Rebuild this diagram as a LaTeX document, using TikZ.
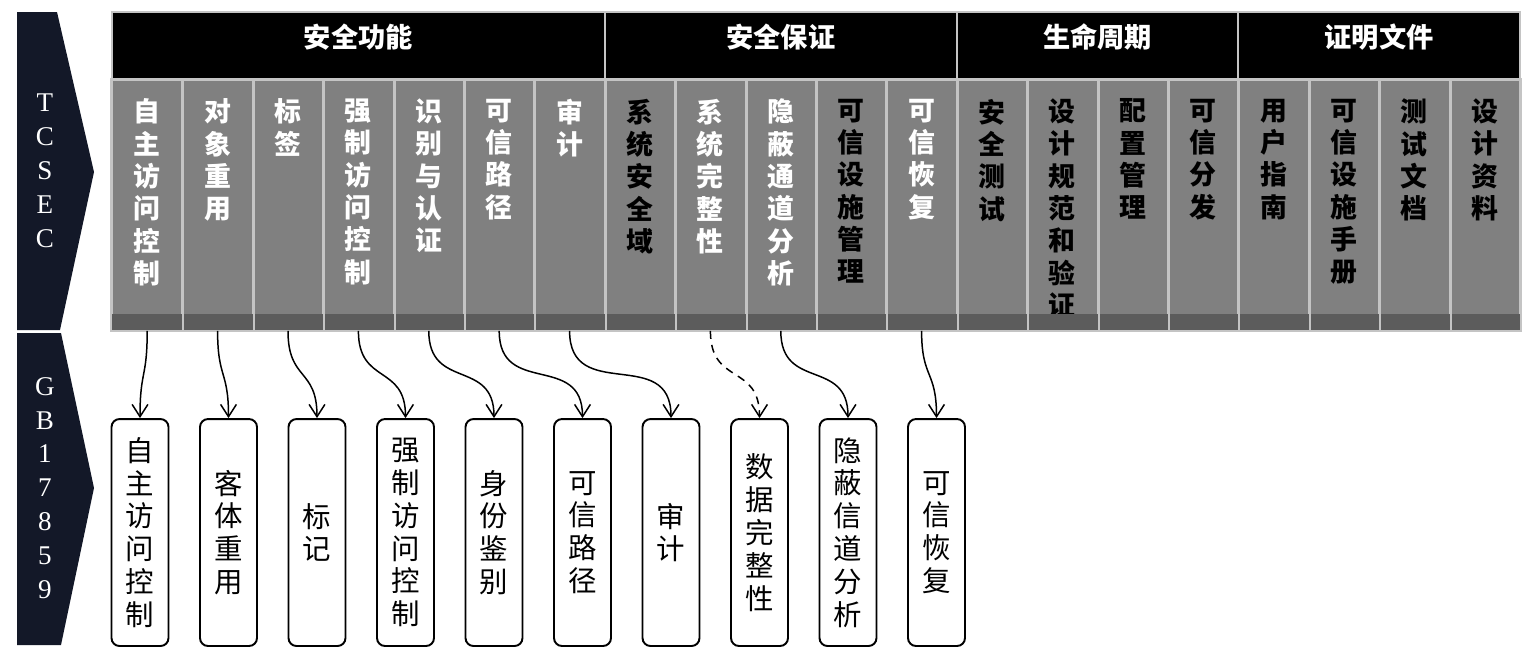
\documentclass[tikz,border=0pt]{standalone}
\usepackage{fontspec}
\usepackage{tikz}
\usetikzlibrary{positioning, arrows.meta}

\newfontfamily\hei{Noto Sans CJK SC}
\newfontfamily\tms{Liberation Serif}
\definecolor{navy}{RGB}{19,24,40}
\definecolor{colgray}{RGB}{128,128,128}
\definecolor{bandgray}{RGB}{92,92,92}
\definecolor{linegray}{RGB}{196,196,196}

\begin{document}
\begin{tikzpicture}[x=0.02cm,y=-0.02cm,
        head/.style={rectangle,fill=black,draw=linegray,line width=1.1pt,minimum height=1.36cm,inner sep=0pt},
        htext/.style={text=white,inner sep=0pt,yshift=0.18cm,font=\hei\bfseries\fontsize{15.5}{18}\selectfont},
        col/.style={rectangle,fill=colgray,draw=linegray,line width=1.1pt,minimum width=1.408cm,minimum height=5cm,inner sep=0pt},
        wlab/.style={anchor=north,inner sep=0pt,align=center,text=white,yshift=-0.39cm,font=\hei\bfseries\fontsize{15.3}{18.4}\selectfont},
        blab/.style={wlab,text=black},
        gbox/.style={rectangle,rounded corners=0.16cm,draw=black,line width=1.1pt,fill=white,minimum width=1.14cm,minimum height=4.54cm,inner sep=0pt,align=center,font=\hei\fontsize{16.2}{18.7}\selectfont},
        stext/.style={text=white,align=center,inner sep=0pt,font=\tms\fontsize{15.4}{19.3}\selectfont},
        link/.style={-{Straight Barb[length=7pt,width=9pt]},line width=0.85pt,out=-90,in=90,looseness=1.4}]

        \useasboundingbox (0,0) rectangle (1534,664);

        % side arrows
        \fill[navy] (17,12) -- (57,12) -- (94,172) -- (60,330) -- (17,330) -- cycle;
        \fill[navy] (17,333) -- (61,333) -- (94,488) -- (61,645) -- (17,645) -- cycle;
        \node[stext] (tcsec) at (45,171) {T\\C\\S\\E\\C};
        \node[stext] (gb)    at (45,488) {G\\B\\1\\7\\8\\5\\9};

        % header groups
        \node[head,minimum width=9.86cm,label={[htext]center:安全功能}]  (g1) at (358.4,46) {};
        \node[head,minimum width=7.04cm,label={[htext]center:安全保证}]  (g2) at (780.8,46) {};
        \node[head,minimum width=5.632cm,label={[htext]center:生命周期}] (g3) at (1097.6,46) {};
        \node[head,minimum width=5.632cm,label={[htext]center:证明文件}] (g4) at (1379.2,46) {};

        % TCSEC columns
        \node[col,label={[wlab]north:自\\主\\访\\问\\控\\制}] (c1)  at (147.2,205) {};
        \node[col,label={[wlab]north:对\\象\\重\\用}]         (c2)  at (217.6,205) {};
        \node[col,label={[wlab]north:标\\签}]                 (c3)  at (288,205) {};
        \node[col,label={[wlab]north:强\\制\\访\\问\\控\\制}] (c4)  at (358.4,205) {};
        \node[col,label={[wlab]north:识\\别\\与\\认\\证}]     (c5)  at (428.8,205) {};
        \node[col,label={[wlab]north:可\\信\\路\\径}]         (c6)  at (499.2,205) {};
        \node[col,label={[wlab]north:审\\计}]                 (c7)  at (569.6,205) {};
        \node[col,label={[blab]north:系\\统\\安\\全\\域}]     (c8)  at (640,205) {};
        \node[col,label={[wlab]north:系\\统\\完\\整\\性}]     (c9)  at (710.4,205) {};
        \node[col,label={[wlab]north:隐\\蔽\\通\\道\\分\\析}] (c10) at (780.8,205) {};
        \node[col,label={[blab]north:可\\信\\设\\施\\管\\理}] (c11) at (851.2,205) {};
        \node[col,label={[wlab]north:可\\信\\恢\\复}]         (c12) at (921.6,205) {};
        \node[col,label={[blab]north:安\\全\\测\\试}]         (c13) at (992,205) {};
        \node[col,label={[blab]north:设\\计\\规\\范\\和\\验\\证}] (c14) at (1062.4,205) {};
        \node[col,label={[blab]north:配\\置\\管\\理}]         (c15) at (1132.8,205) {};
        \node[col,label={[blab]north:可\\信\\分\\发}]         (c16) at (1203.2,205) {};
        \node[col,label={[blab]north:用\\户\\指\\南}]         (c17) at (1273.6,205) {};
        \node[col,label={[blab]north:可\\信\\设\\施\\手\\册}] (c18) at (1344,205) {};
        \node[col,label={[blab]north:测\\试\\文\\档}]         (c19) at (1414.4,205) {};
        \node[col,label={[blab]north:设\\计\\资\\料}]         (c20) at (1484.8,205) {};

        % dark strip at the foot of the columns
        \fill[bandgray] (c1.south west) rectangle ([yshift=0.34cm]c20.south east);
        \draw[linegray,line width=1.1pt] (c1.south west) rectangle (c20.north east)
                  (c1.south east) -- (c1.north east)   (c2.south east) -- (c2.north east)
                  (c3.south east) -- (c3.north east)   (c4.south east) -- (c4.north east)
                  (c5.south east) -- (c5.north east)   (c6.south east) -- (c6.north east)
                  (c7.south east) -- (c7.north east)   (c8.south east) -- (c8.north east)
                  (c9.south east) -- (c9.north east)   (c10.south east) -- (c10.north east)
                  (c11.south east) -- (c11.north east) (c12.south east) -- (c12.north east)
                  (c13.south east) -- (c13.north east) (c14.south east) -- (c14.north east)
                  (c15.south east) -- (c15.north east) (c16.south east) -- (c16.north east)
                  (c17.south east) -- (c17.north east) (c18.south east) -- (c18.north east)
                  (c19.south east) -- (c19.north east);

        % GB17859 boxes
        \node[gbox] (b1)  at (140,532.5)   {自\\主\\访\\问\\控\\制};
        \node[gbox] (b2)  at (228.5,532.5) {客\\体\\重\\用};
        \node[gbox] (b3)  at (317,532.5)   {标\\记};
        \node[gbox] (b4)  at (405.5,532.5) {强\\制\\访\\问\\控\\制};
        \node[gbox] (b5)  at (494,532.5)   {身\\份\\鉴\\别};
        \node[gbox] (b6)  at (582.5,532.5) {可\\信\\路\\径};
        \node[gbox] (b7)  at (671,532.5)   {审\\计};
        \node[gbox] (b8)  at (759.5,532.5) {数\\据\\完\\整\\性};
        \node[gbox] (b9)  at (848,532.5)   {隐\\蔽\\信\\道\\分\\析};
        \node[gbox] (b10) at (936.5,532.5) {可\\信\\恢\\复};

        \path (c1.south)  edge [link] (b1.north)
              (c2.south)  edge [link] (b2.north)
              (c3.south)  edge [link] (b3.north)
              (c4.south)  edge [link] (b4.north)
              (c5.south)  edge [link] (b5.north)
              (c6.south)  edge [link] (b6.north)
              (c7.south)  edge [link] (b7.north)
              (c9.south)  edge [link, dashed, dash pattern=on 4.5pt off 3.5pt] (b8.north)
              (c10.south) edge [link] (b9.north)
              (c12.south) edge [link] (b10.north);
\end{tikzpicture}
\end{document}
